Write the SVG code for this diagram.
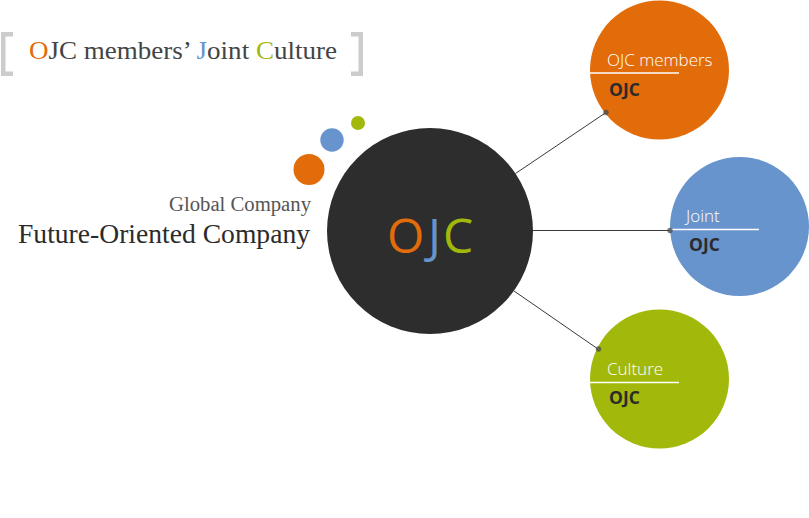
<svg xmlns="http://www.w3.org/2000/svg" width="809" height="518" viewBox="0 0 809 518">
<style>
.serif{font-family:"Liberation Serif","DejaVu Serif",serif}
.sans{font-family:"Open Sans","Noto Sans","DejaVu Sans",sans-serif}
.lbl{fill:#ffffff;font-size:17px;font-weight:300}
.sub{fill:#2b2b2b;font-size:17.5px;font-weight:700}
.rule{stroke:#ffffff;stroke-width:1.5}
.conn{stroke:#3a3a3a;stroke-width:1;fill:none}
.dot{fill:#4a4a4a;fill-opacity:0.75}
</style>
<rect width="809" height="518" fill="#ffffff"/>
<g id="title">
<path d="M1 32 H13 V36.5 H5.5 V71.5 H13 V76 H1 Z" fill="#cccccc"/>
<path d="M363 32 H351 V36.5 H358.5 V71.5 H351 V76 H363 Z" fill="#cccccc"/>
<text class="serif" x="29" y="58.5" font-size="25" fill="#444444" textLength="308" lengthAdjust="spacingAndGlyphs"><tspan fill="#e36c0a">O</tspan>JC members’ <tspan fill="#6794cd">J</tspan>oint <tspan fill="#a2b90c">C</tspan>ulture</text>
</g>
<g id="decor">
<circle cx="309" cy="169.5" r="15.5" fill="#e36c0a"/>
<circle cx="332" cy="140" r="11.7" fill="#6794cd"/>
<circle cx="358" cy="123" r="7" fill="#a2b90c"/>
<text class="serif" x="311" y="211" font-size="20" fill="#555555" text-anchor="end" textLength="142" lengthAdjust="spacingAndGlyphs">Global Company</text>
<text class="serif" x="310" y="242.5" font-size="28" fill="#2b2b2b" text-anchor="end" textLength="292" lengthAdjust="spacingAndGlyphs">Future-Oriented Company</text>
</g>
<g id="connectors">
<line class="conn" x1="515.5" y1="173.5" x2="606" y2="112.5"/>
<line class="conn" x1="533" y1="230.5" x2="670" y2="230.5"/>
<line class="conn" x1="514" y1="291" x2="598" y2="349"/>
</g>
<g id="center">
<circle cx="430" cy="231" r="103" fill="#2d2d2d"/>
<text class="sans" y="253" font-size="48"><tspan x="387" fill="#e36c0a">O</tspan><tspan x="428" fill="#6794cd">J</tspan><tspan x="443" fill="#a2b90c">C</tspan></text>
</g>
<g id="members">
<circle cx="659.5" cy="70" r="69.5" fill="#e36c0a"/>
<text class="sans lbl" x="607" y="66">OJC members</text>
<line class="rule" x1="590" y1="73" x2="679" y2="73"/>
<text class="sans sub" x="609" y="95.5">OJC</text>
<circle class="dot" cx="606" cy="112.5" r="2.7"/>
</g>
<g id="joint">
<circle cx="739.5" cy="226.5" r="69.5" fill="#6794cd"/>
<text class="sans lbl" x="686" y="221.5">Joint</text>
<line class="rule" x1="670" y1="229.5" x2="759" y2="229.5"/>
<text class="sans sub" x="689" y="250.5">OJC</text>
<circle class="dot" cx="670" cy="230.5" r="2.7"/>
</g>
<g id="culture">
<circle cx="659.5" cy="379" r="69.5" fill="#a2b90c"/>
<text class="sans lbl" x="607" y="375">Culture</text>
<line class="rule" x1="590" y1="382.5" x2="679" y2="382.5"/>
<text class="sans sub" x="609" y="404">OJC</text>
<circle class="dot" cx="598.5" cy="349" r="2.7"/>
</g>
</svg>
